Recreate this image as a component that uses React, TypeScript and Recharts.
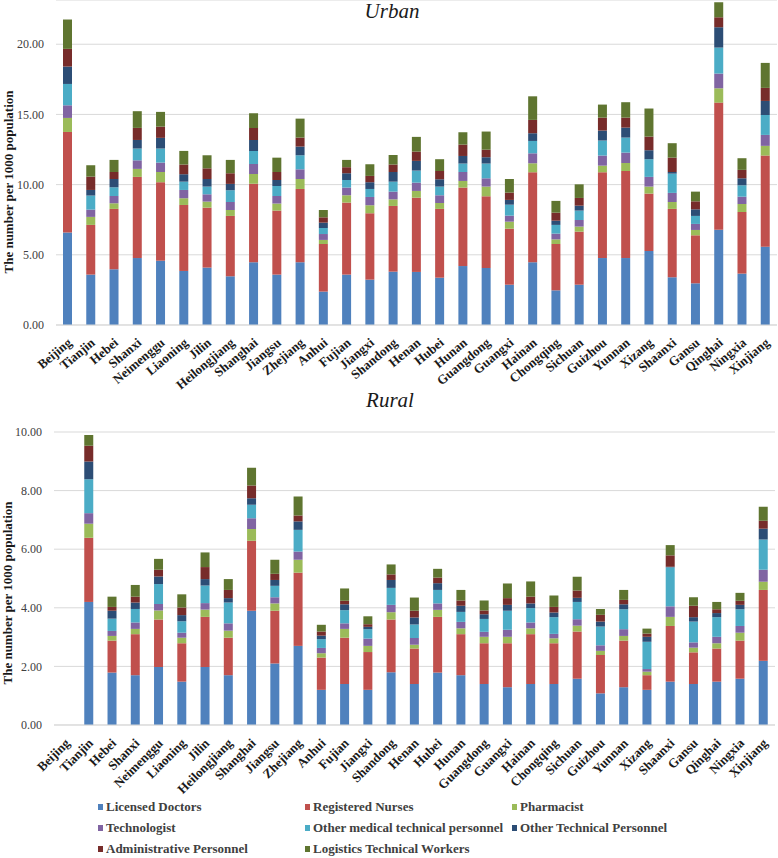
import React from 'react';
import { BarChart, Bar, XAxis, YAxis, CartesianGrid } from 'recharts';

const provinces = [
  'Beijing', 'Tianjin', 'Hebei', 'Shanxi', 'Neimenggu', 'Liaoning', 'Jilin', 'Heilongjiang',
  'Shanghai', 'Jiangsu', 'Zhejiang', 'Anhui', 'Fujian', 'Jiangxi', 'Shandong', 'Henan',
  'Hubei', 'Hunan', 'Guangdong', 'Guangxi', 'Hainan', 'Chongqing', 'Sichuan', 'Guizhou',
  'Yunnan', 'Xizang', 'Shaanxi', 'Gansu', 'Qinghai', 'Ningxia', 'Xinjiang',
];

// Urban, per 1000 population
const urbanDoctors = [6.58, 3.59, 3.97, 4.77, 4.58, 3.85, 4.09, 3.47, 4.47, 3.59, 4.47, 2.38, 3.59, 3.23, 3.80, 3.78, 3.37, 4.20, 4.06, 2.87, 4.47, 2.47, 2.87, 4.77, 4.77, 5.27, 3.40, 2.97, 6.79, 3.66, 5.58];
const urbanNurses = [7.17, 3.54, 4.30, 5.78, 5.59, 4.70, 4.27, 4.30, 5.60, 4.56, 5.22, 3.39, 5.13, 4.73, 4.68, 5.29, 4.90, 5.59, 5.11, 3.99, 6.41, 3.30, 3.78, 6.11, 6.20, 4.09, 4.87, 3.42, 9.05, 4.39, 6.49];
const urbanPharmacist = [1.00, 0.57, 0.40, 0.57, 0.73, 0.48, 0.43, 0.42, 0.69, 0.50, 0.71, 0.29, 0.52, 0.57, 0.47, 0.48, 0.42, 0.47, 0.69, 0.50, 0.64, 0.33, 0.36, 0.47, 0.57, 0.50, 0.49, 0.38, 1.02, 0.57, 0.69];
const urbanTechnologist = [0.90, 0.52, 0.52, 0.61, 0.67, 0.59, 0.52, 0.57, 0.71, 0.54, 0.69, 0.42, 0.55, 0.59, 0.55, 0.59, 0.55, 0.64, 0.59, 0.43, 0.71, 0.41, 0.47, 0.72, 0.74, 0.69, 0.65, 0.43, 1.05, 0.52, 0.78];
const urbanOtherMedical = [1.52, 1.00, 0.62, 0.84, 1.00, 0.59, 0.55, 0.84, 0.93, 0.71, 1.00, 0.43, 0.54, 0.57, 0.71, 0.86, 0.62, 0.60, 1.05, 0.78, 0.88, 0.62, 0.67, 1.07, 1.07, 1.26, 1.37, 0.57, 1.85, 0.81, 1.42];
const urbanOtherTech = [1.24, 0.40, 0.59, 0.61, 0.76, 0.53, 0.54, 0.45, 0.78, 0.43, 0.62, 0.38, 0.48, 0.48, 0.69, 0.69, 0.52, 0.54, 0.45, 0.34, 0.55, 0.30, 0.35, 0.71, 0.71, 0.64, 0.12, 0.47, 1.45, 0.50, 1.00];
const urbanAdmin = [1.26, 0.95, 0.50, 0.86, 0.80, 0.69, 0.76, 0.76, 0.86, 0.57, 0.64, 0.38, 0.43, 0.45, 0.53, 0.66, 0.59, 0.81, 0.54, 0.52, 0.95, 0.57, 0.55, 0.92, 0.71, 0.97, 1.02, 0.57, 0.71, 0.60, 0.93];
const urbanLogistics = [2.09, 0.81, 0.86, 1.19, 1.05, 0.97, 0.93, 0.95, 1.04, 1.02, 1.35, 0.52, 0.52, 0.83, 0.68, 1.05, 0.84, 0.88, 1.29, 0.97, 1.68, 0.84, 0.97, 0.93, 1.10, 2.00, 1.03, 0.69, 1.07, 0.83, 1.78];

// Rural (no bar drawn for Beijing)
const ruralDoctors = [0, 4.20, 1.79, 1.70, 1.98, 1.48, 1.98, 1.70, 3.90, 2.10, 2.70, 1.20, 1.40, 1.20, 1.80, 1.40, 1.79, 1.70, 1.40, 1.29, 1.40, 1.40, 1.58, 1.08, 1.29, 1.20, 1.48, 1.40, 1.48, 1.58, 2.19];
const ruralNurses = [0, 2.19, 1.09, 1.40, 1.62, 1.31, 1.71, 1.28, 2.39, 1.80, 2.50, 1.10, 1.58, 1.29, 1.80, 1.21, 1.90, 1.40, 1.39, 1.50, 1.70, 1.39, 1.61, 1.31, 1.59, 0.50, 1.90, 1.08, 1.13, 1.30, 2.42];
const ruralPharmacist = [0, 0.48, 0.16, 0.18, 0.31, 0.19, 0.25, 0.24, 0.40, 0.25, 0.44, 0.15, 0.30, 0.21, 0.25, 0.13, 0.24, 0.20, 0.22, 0.22, 0.20, 0.17, 0.20, 0.14, 0.16, 0.12, 0.31, 0.16, 0.18, 0.27, 0.28];
const ruralTechnologist = [0, 0.36, 0.17, 0.22, 0.22, 0.17, 0.22, 0.25, 0.37, 0.21, 0.28, 0.18, 0.19, 0.25, 0.25, 0.23, 0.22, 0.22, 0.17, 0.24, 0.20, 0.15, 0.22, 0.19, 0.23, 0.09, 0.36, 0.18, 0.22, 0.23, 0.41];
const ruralOtherMedical = [0, 1.16, 0.42, 0.46, 0.68, 0.39, 0.60, 0.71, 0.46, 0.39, 0.74, 0.30, 0.45, 0.32, 0.58, 0.46, 0.46, 0.34, 0.44, 0.65, 0.49, 0.57, 0.59, 0.64, 0.68, 0.93, 1.33, 0.71, 0.67, 0.57, 1.03];
const ruralOtherTech = [0, 0.60, 0.27, 0.22, 0.26, 0.21, 0.22, 0.15, 0.22, 0.20, 0.29, 0.12, 0.20, 0.08, 0.27, 0.24, 0.23, 0.21, 0.16, 0.20, 0.16, 0.16, 0.14, 0.17, 0.17, 0.17, 0.02, 0.15, 0.14, 0.15, 0.37];
const ruralAdmin = [0, 0.54, 0.13, 0.20, 0.23, 0.26, 0.41, 0.28, 0.43, 0.21, 0.20, 0.14, 0.12, 0.09, 0.19, 0.23, 0.19, 0.18, 0.13, 0.23, 0.23, 0.19, 0.25, 0.23, 0.15, 0.11, 0.39, 0.39, 0.13, 0.14, 0.27];
const ruralLogistics = [0, 0.37, 0.35, 0.40, 0.37, 0.45, 0.50, 0.37, 0.61, 0.48, 0.65, 0.23, 0.42, 0.27, 0.34, 0.45, 0.30, 0.36, 0.34, 0.50, 0.52, 0.39, 0.47, 0.20, 0.34, 0.17, 0.35, 0.29, 0.25, 0.27, 0.48];

const seriesNames = [
  'Licensed Doctors', 'Registered Nurses', 'Pharmacist', 'Technologist',
  'Other medical technical personnel', 'Other Technical Personnel',
  'Administrative Personnel', 'Logistics Technical Workers',
];
const seriesColors = ['#4f81bd', '#c0504d', '#9bbb59', '#8064a2', '#4bacc6', '#2c4d75', '#772c2a', '#5f7530'];

const urbanSeries = [urbanDoctors, urbanNurses, urbanPharmacist, urbanTechnologist, urbanOtherMedical, urbanOtherTech, urbanAdmin, urbanLogistics];
const ruralSeries = [ruralDoctors, ruralNurses, ruralPharmacist, ruralTechnologist, ruralOtherMedical, ruralOtherTech, ruralAdmin, ruralLogistics];

const serif = '"Liberation Serif", "DejaVu Serif", serif';

const buildRows = (series: number[][]) =>
  provinces.map((name, i) => {
    const row: { [k: string]: string | number } = { name };
    series.forEach((values, s) => {
      row['s' + s] = values[i];
    });
    return row;
  });

const makeTick = (angle: number) => (props: any) => {
  const { x, y, payload } = props;
  return (
    <text
      x={x + 5}
      y={y + 11}
      transform={`rotate(${angle}, ${x + 5}, ${y + 11})`}
      textAnchor="end"
      fontFamily={serif}
      fontSize={13}
      fontWeight="bold"
      fill="#1a1a1a"
    >
      {payload.value}
    </text>
  );
};

function StackChart({ series, top, height, marginTop, marginBottom, yWidth, marginRight, domain, ticks, angle }: any) {
  const rows = buildRows(series);
  return (
    <div style={{ position: 'absolute', left: 0, top, width: 778, height }}>
      <BarChart width={778} height={height} data={rows} barSize={9} margin={{ top: marginTop, right: marginRight, bottom: marginBottom, left: 0 }}>
        <CartesianGrid vertical={false} stroke="#d9d9d9" />
        <XAxis
          dataKey="name"
          interval={0}
          height={70}
          tickLine={false}
          axisLine={{ stroke: '#d9d9d9' }}
          tick={makeTick(angle)}
        />
        <YAxis
          width={yWidth}
          domain={domain}
          ticks={ticks}
          allowDataOverflow
          axisLine={false}
          tickLine={false}
          tickSize={0}
          tickMargin={12}
          tickFormatter={(v: number) => v.toFixed(2)}
          tick={{ fontFamily: serif, fontSize: 12, fill: '#404040' }}
        />
        {seriesNames.map((name, s) => (
          <Bar key={name} dataKey={'s' + s} name={name} stackId="a" fill={seriesColors[s]} isAnimationActive={false} />
        ))}
      </BarChart>
    </div>
  );
}

const yTitleStyle = (cx: number, cy: number): React.CSSProperties => ({
  position: 'absolute',
  left: cx - 120,
  top: cy - 9,
  width: 240,
  textAlign: 'center',
  transform: 'rotate(-90deg)',
  fontFamily: serif,
  fontWeight: 'bold',
  fontSize: 13,
  lineHeight: '18px',
  color: '#1a1a1a',
  whiteSpace: 'nowrap',
});

const titleStyle = (cx: number, top: number): React.CSSProperties => ({
  position: 'absolute',
  left: cx - 60,
  top,
  width: 120,
  textAlign: 'center',
  fontFamily: serif,
  fontStyle: 'italic',
  fontSize: 21,
  lineHeight: '22px',
  color: '#1a1a1a',
});

const legendCols = [98, 305, 512];
const legendRows = [807, 828, 849];

export default function App() {
  return (
    <div style={{ position: 'absolute', left: 0, top: 0, width: 778, height: 858, background: '#fff', overflow: 'hidden' }}>
      <StackChart
        series={urbanSeries}
        top={0}
        height={400}
        marginTop={0}
        marginBottom={5}
        yWidth={56}
        marginRight={1}
        domain={[0, 23.15]}
        ticks={[0, 5, 10, 15, 20]}
        angle={-40}
      />
      <StackChart
        series={ruralSeries}
        top={400}
        height={410}
        marginTop={32}
        marginBottom={15}
        yWidth={54}
        marginRight={3}
        domain={[0, 10]}
        ticks={[0, 2, 4, 6, 8, 10]}
        angle={-45}
      />
      <div style={titleStyle(392, 0)}>Urban</div>
      <div style={titleStyle(390, 389)}>Rural</div>
      <div style={yTitleStyle(9, 182)}>The number per 1000 population</div>
      <div style={yTitleStyle(8, 593)}>The number per 1000 population</div>
      {seriesNames.map((name, i) => {
        const col = i % 3;
        const row = Math.floor(i / 3);
        return (
          <div
            key={name}
            style={{ position: 'absolute', left: legendCols[col], top: legendRows[row] - 9, height: 18, display: 'flex', alignItems: 'center', whiteSpace: 'nowrap' }}
          >
            <span style={{ width: 5, height: 6, background: seriesColors[i], display: 'inline-block', marginRight: 3 }} />
            <span style={{ fontFamily: serif, fontWeight: 'bold', fontSize: 13, color: '#404040' }}>{name}</span>
          </div>
        );
      })}
    </div>
  );
}
